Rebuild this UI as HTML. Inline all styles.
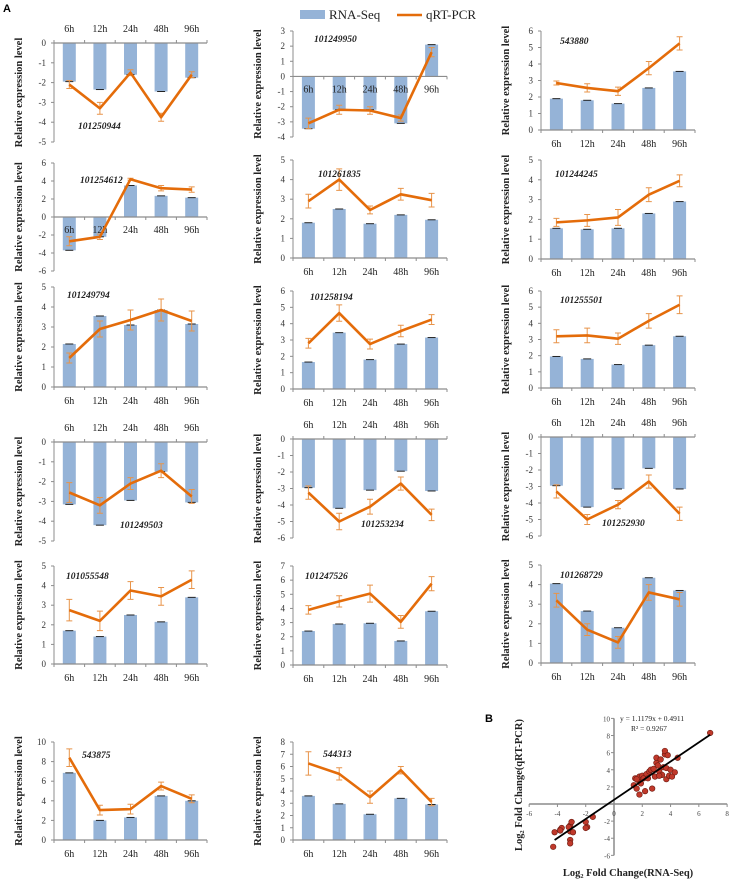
<!DOCTYPE html>
<html><head><meta charset="utf-8">
<style>
html,body{margin:0;padding:0;background:#fff;}
body{width:734px;height:881px;overflow:hidden;position:relative;font-family:"Liberation Serif",serif;}
svg{position:absolute;left:0;top:0;}
</style></head>
<body>
<svg id="fig" width="734" height="881" viewBox="0 0 734 881" xmlns="http://www.w3.org/2000/svg">
<text x="3" y="12" font-family="Liberation Sans,sans-serif" font-weight="bold" font-size="11">A</text>
<g>
<rect x="300" y="10" width="25" height="9" fill="#95b3d7"/>
<text x="329" y="19" font-size="13" fill="#222">RNA-Seq</text>
<line x1="397" y1="15" x2="422" y2="15" stroke="#e46c0a" stroke-width="2.5"/>
<text x="426" y="19" font-size="13" fill="#222">qRT-PCR</text>
</g>
<text x="485" y="722" font-family="Liberation Sans,sans-serif" font-weight="bold" font-size="11">B</text>
</svg>
<script>
const times = ["6h","12h","24h","48h","96h"];
const genes = ["101250944","101249950","543880","101254612","101261835","101244245","101249794","101258194","101255501","101249503","101253234","101252930","101055548","101247526","101268729","543875","544313"];
const rnaSeq = [
 [-1.95,-2.35,-1.6,-2.45,-1.75],
 [-3.45,-2.2,-2.2,-3.1,2.1],
 [1.9,1.8,1.6,2.55,3.55],
 [-3.7,-2.2,3.5,2.35,2.15],
 [1.8,2.5,1.75,2.2,1.95],
 [1.55,1.5,1.55,2.3,2.9],
 [2.15,3.55,3.1,3.85,3.15],
 [1.65,3.45,1.8,2.75,3.15],
 [1.95,1.8,1.45,2.65,3.2],
 [-3.15,-4.2,-2.95,-1.5,-3.05],
 [-2.95,-4.2,-3.1,-1.95,-3.15],
 [-2.95,-4.25,-3.15,-1.9,-3.15],
 [1.7,1.4,2.5,2.15,3.4],
 [2.4,2.9,2.95,1.7,3.8],
 [4.05,2.65,1.8,4.35,3.7],
 [6.85,2.0,2.3,4.5,4.0],
 [3.6,2.95,2.1,3.4,2.9]
];
const qrtPcr = [
 [-2.1,-3.3,-1.5,-3.75,-1.6],
 [-3.1,-2.2,-2.25,-2.75,1.6],
 [2.85,2.55,2.35,3.75,5.25],
 [-2.7,-2.2,4.2,3.2,3.05],
 [2.9,4.0,2.45,3.25,2.95],
 [1.85,1.95,2.1,3.25,3.95],
 [1.45,2.9,3.35,3.85,3.3],
 [2.8,4.65,2.75,3.55,4.25],
 [3.2,3.25,3.05,4.15,5.15],
 [-2.55,-3.2,-2.1,-1.45,-2.75],
 [-3.25,-5.0,-4.1,-2.7,-4.6],
 [-3.3,-5.0,-4.1,-2.7,-4.65],
 [2.75,2.2,3.75,3.45,4.3],
 [3.9,4.5,5.05,3.05,5.75],
 [3.2,1.7,1.05,3.6,3.25],
 [8.4,3.05,3.15,5.5,4.2],
 [6.25,5.4,3.5,5.7,3.1]
];
const qrtErr = [
 [0.2,0.3,0.15,0.2,0.15],
 [0.35,0.3,0.25,0.2,0.3],
 [0.12,0.25,0.25,0.4,0.4],
 [0.5,0.3,0.1,0.3,0.3],
 [0.35,0.55,0.2,0.3,0.35],
 [0.2,0.3,0.4,0.35,0.3],
 [0.25,0.4,0.5,0.55,0.5],
 [0.3,0.5,0.3,0.35,0.3],
 [0.4,0.45,0.35,0.45,0.55],
 [0.5,0.4,0.3,0.35,0.35],
 [0.4,0.5,0.45,0.4,0.35],
 [0.4,0.3,0.25,0.4,0.4],
 [0.55,0.5,0.45,0.45,0.45],
 [0.3,0.4,0.6,0.45,0.5],
 [0.35,0.3,0.3,0.4,0.35],
 [0.9,0.5,0.5,0.4,0.4],
 [0.95,0.5,0.5,0.3,0.3]
];
const yMins = [-5,-4,0,-6,0,0,0,0,0,-5,-6,-6,0,0,0,0,0];
const yMaxs = [0,3,6,6,5,5,5,6,6,0,0,0,5,7,5,10,8];
const ySteps = [1,1,1,2,1,1,1,1,1,1,1,1,1,1,1,2,1];
// scatter data (log2 fold change)
const scatterX = [-4.3,-4.2,-3.8,-3.7,-3.8,-3.1,-3.0,-3.1,-2.9,-3.1,-3.1,-3.2,-2.0,-1.9,-2.0,-1.5,1.4,1.5,1.6,1.7,1.8,1.8,1.9,2.0,2.1,2.2,2.3,2.5,2.6,2.7,2.9,3.0,3.0,3.1,3.2,3.3,3.4,3.5,3.6,3.6,3.7,3.7,3.8,3.9,4.0,4.1,4.3,4.5,6.8,2.4,1.6,2.8,3.2];
const scatterY = [-5,-3.3,-3,-2.8,-3.1,-2.5,-2.1,-3.2,-3.3,-4.2,-4.6,-2.7,-2.1,-2.7,-2.8,-1.5,2.2,3,1.8,2.8,3.2,1.1,2.4,3.3,3.0,1.5,3.5,3.8,4.0,1.8,3.2,4.8,5.4,4.5,3.8,5.2,3.4,4.3,5.8,6.2,4.2,2.9,5.7,3.3,4.0,3.2,3.7,5.4,8.3,3.0,2.9,4.1,3.3];
const scatterTicksX = [-6,-4,-2,0,2,4,6,8];
const scatterTicksY = [-6,-4,-2,2,4,6,8,10];
const regSlope = 1.1179, regIntercept = 0.4911;

// layout (pixel geometry)
const colX = [[54,207],[293,447],[541,695]];
const layout = [
 {c:0,top:43,bot:142,lab:"top",gx:78,gy:129},
 {c:1,top:31,bot:137,lab:"axis",gx:314,gy:42},
 {c:2,top:31,bot:130,lab:"bottom",gx:560,gy:44},
 {c:0,top:163,bot:271,lab:"axis",gx:80,gy:183},
 {c:1,top:160,bot:258,lab:"bottom",gx:318,gy:177},
 {c:2,top:160,bot:259,lab:"bottom",gx:555,gy:177},
 {c:0,top:287,bot:387,lab:"bottom",gx:67,gy:298},
 {c:1,top:291,bot:389,lab:"bottom",gx:310,gy:300},
 {c:2,top:291,bot:388,lab:"bottom",gx:560,gy:303},
 {c:0,top:442,bot:541,lab:"top",gx:120,gy:528},
 {c:1,top:439,bot:538,lab:"top",gx:361,gy:527},
 {c:2,top:437,bot:536,lab:"top",gx:602,gy:526},
 {c:0,top:566,bot:664,lab:"bottom",gx:66,gy:579},
 {c:1,top:566,bot:665,lab:"bottom",gx:305,gy:579},
 {c:2,top:565,bot:663,lab:"bottom",gx:560,gy:578},
 {c:0,top:742,bot:840,lab:"bottom",gx:82,gy:758},
 {c:1,top:742,bot:840,lab:"bottom",gx:323,gy:757}
];
const NS="http://www.w3.org/2000/svg";
const svg=document.getElementById("fig");
function mk(tag,attrs,parent){const e=document.createElementNS(NS,tag);for(const k in attrs)e.setAttribute(k,attrs[k]);(parent||svg).appendChild(e);return e;}
const AX="#8c8c8c", BAR="#95b3d7", LINE="#e46c0a";

genes.forEach((g,i)=>{
  const L=layout[i];
  const x0=colX[L.c][0], x1=colX[L.c][1];
  const lo=yMins[i], hi=yMaxs[i];
  const ys=v=>L.bot-(v-lo)/(hi-lo)*(L.bot-L.top);
  const cw=(x1-x0)/times.length;
  const xs=k=>x0+cw*(k+0.5);
  const grp=mk("g",{});
  
  
  const zeroY=ys(Math.max(lo,Math.min(0,hi)));
  // y axis title
  const tx=x0-32, ty=(L.top+L.bot)/2;
  const yt=mk("text",{x:tx,y:ty,transform:`rotate(-90 ${tx} ${ty})`,"text-anchor":"middle","font-size":"10.5","font-weight":"bold",fill:"#222"},grp);
  yt.textContent="Relative expression level";
  
  
  // bars
  rnaSeq[i].forEach((v,k)=>{
    const y=ys(v), yb=zeroY;
    const r=mk("rect",{x:xs(k)-6.5,y:Math.min(y,yb),width:13,height:Math.abs(y-yb),fill:BAR},grp);
    
    
    mk("line",{x1:xs(k)-4,x2:xs(k)+4,y1:y,y2:y,stroke:"#222","stroke-width":1},grp);
  });
  // y axis
  const ya=mk("line",{x1:x0,x2:x0,y1:L.top,y2:L.bot,stroke:AX,"stroke-width":1},grp);
  
  
  for(let v=lo;v<=hi+1e-9;v+=ySteps[i]){
    mk("line",{x1:x0-3,x2:x0,y1:ys(v),y2:ys(v),stroke:AX},grp);
    const t=mk("text",{x:x0-8,y:ys(v)+3,"text-anchor":"end","font-size":"9",fill:"#333"},grp);
    t.textContent=String(Math.round(v));
    
    
  }
  // x axis
  const xa=mk("line",{x1:x0,x2:x1,y1:zeroY,y2:zeroY,stroke:AX,"stroke-width":1.2},grp);
  
  
  for(let k=0;k<=times.length;k++){
    const xx=x0+cw*k;
    mk("line",{x1:xx,x2:xx,y1:zeroY,y2:zeroY+(lo<0&&hi<=0?-3:3),stroke:AX},grp);
  }
  const labY = L.lab==="top"? L.top-11 : (L.lab==="axis"? zeroY+16 : L.bot+17);
  times.forEach((tm,k)=>{
    const t=mk("text",{x:xs(k),y:labY,"text-anchor":"middle","font-size":"10",fill:"#222"},grp);
    t.textContent=tm;
    
    
  });
  // error bars
  qrtPcr[i].forEach((v,k)=>{
    const e=qrtErr[i][k], x=xs(k);
    mk("path",{d:`M${x},${ys(v+e)}V${ys(v-e)}M${x-3},${ys(v+e)}h6M${x-3},${ys(v-e)}h6`,stroke:"#e8944a","stroke-width":1,fill:"none"},grp);
  });
  // line
  const pl=mk("polyline",{points:qrtPcr[i].map((v,k)=>xs(k)+","+ys(v)).join(" "),fill:"none",stroke:LINE,"stroke-width":2.6,"stroke-linejoin":"round"},grp);
  
  
  // gene label
  const gt=mk("text",{x:L.gx,y:L.gy,"font-size":"9.5","font-style":"italic","font-weight":"bold",fill:"#222"},grp);
  gt.textContent=g;
  
  
});

// scatter panel B
(function(){
  const sx=v=>614+v*14.14, sy=v=>804-v*8.56;
  const g=mk("g",{});
  
  
  const xa=mk("line",{x1:sx(-6),x2:sx(8),y1:sy(0),y2:sy(0),stroke:AX,"stroke-width":1.5},g);
  
  
  const ya=mk("line",{x1:sx(0),x2:sx(0),y1:sy(10),y2:sy(-6),stroke:AX,"stroke-width":1.5},g);
  
  
  scatterTicksX.forEach(v=>{
    mk("line",{x1:sx(v),x2:sx(v),y1:sy(0),y2:sy(0)+3,stroke:AX},g);
    const t=mk("text",{x:sx(v),y:sy(0)+12,"text-anchor":"middle","font-size":"7",fill:"#444"},g);
    t.textContent=String(v);
    
    
  });
  scatterTicksY.forEach(v=>{
    mk("line",{x1:sx(0)-3,x2:sx(0),y1:sy(v),y2:sy(v),stroke:AX},g);
    const t=mk("text",{x:sx(0)-4,y:sy(v)+3,"text-anchor":"end","font-size":"7",fill:"#444"},g);
    t.textContent=String(v);
    
    
  });
  scatterX.forEach((x,k)=>{
    const c=mk("circle",{cx:sx(x),cy:sy(scatterY[k]),r:2.8,fill:"#c0392b",stroke:"#6b1a10","stroke-width":0.6},g);
    
    
  });
  const rl=mk("line",{x1:sx(-4.2),y1:sy(regSlope*-4.2+regIntercept),x2:sx(6.8),y2:sy(regSlope*6.8+regIntercept),stroke:"#000","stroke-width":1.8},g);
  
  
  const eq=mk("text",{x:620,y:721,"font-size":"7.5",fill:"#222"},g);
  eq.textContent="y = 1.1179x + 0.4911";
  
  
  const r2=mk("text",{x:631,y:731,"font-size":"7.5",fill:"#222"},g);
  r2.textContent="R² = 0.9267";
  
  
  const yt=mk("text",{x:522,y:785,transform:"rotate(-90 522 785)","text-anchor":"middle","font-size":"10.5","font-weight":"bold",fill:"#222"},g);
  yt.textContent="Log₂ Fold Change(qRT-PCR)";
  
  
  const xt=mk("text",{x:628,y:876,"text-anchor":"middle","font-size":"10.5","font-weight":"bold",fill:"#222"},g);
  xt.textContent="Log₂ Fold Change(RNA-Seq)";
  
  
})();
</script>
</body></html>
